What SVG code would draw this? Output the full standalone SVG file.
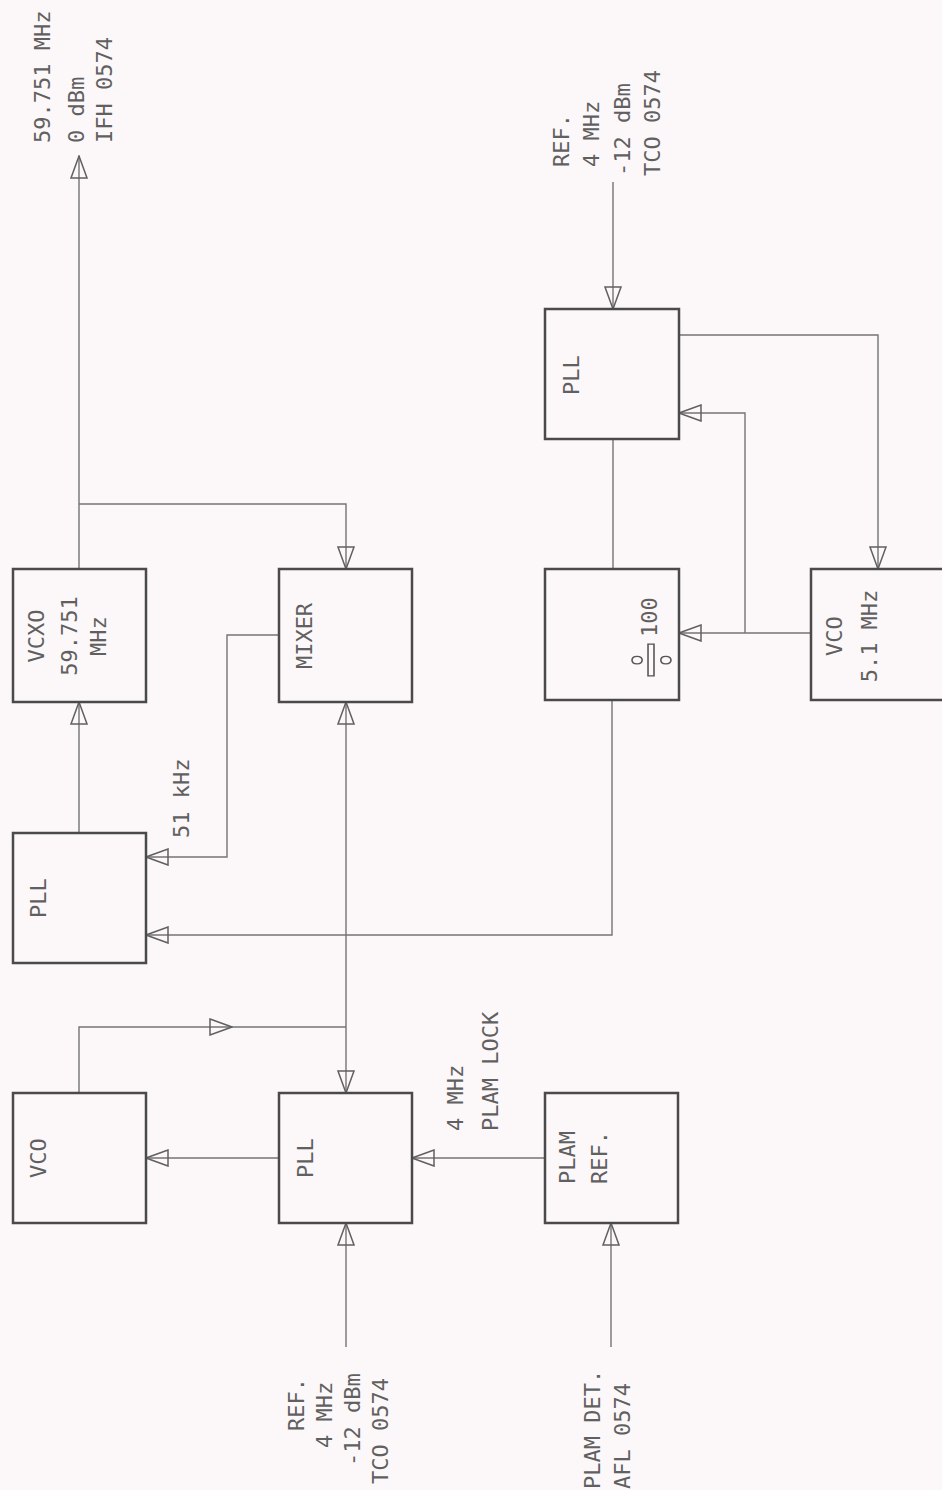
<svg xmlns="http://www.w3.org/2000/svg" width="942" height="1490" viewBox="0 0 942 1490">
<style>
.bg{fill:#fcf7f8}
.bx{fill:none;stroke:#4a4a4a;stroke-width:2.5}
.ln{fill:none;stroke:#747474;stroke-width:1.4}
.t{font-family:"DejaVu Sans Mono","Liberation Mono",monospace;font-size:22px;fill:#606060}
.m{text-anchor:middle}
.big{font-family:"Noto Sans","DejaVu Sans",sans-serif;font-size:64px;fill:none;stroke:#555;stroke-width:1.2;text-anchor:middle}
</style>
<defs>
<marker id="arr" viewBox="0 0 24 18" refX="23" refY="9" markerWidth="24" markerHeight="18" markerUnits="userSpaceOnUse" orient="auto-start-reverse">
<path d="M1,1 L23,9 L1,17 Z" fill="none" stroke="#606060" stroke-width="1.5"/>
</marker>
</defs>
<rect class="bg" x="0" y="0" width="942" height="1490"/>

<g id="connectors">
<path class="ln" d="M79,569 V156" marker-end="url(#arr)"/>
<path class="ln" d="M79,504 H346 V569" marker-end="url(#arr)"/>
<path class="ln" d="M79,833 V702" marker-end="url(#arr)"/>
<path class="ln" d="M279,635 H227 V857 H146" marker-end="url(#arr)"/>
<path class="ln" d="M346,702 V1093" marker-start="url(#arr)" marker-end="url(#arr)"/>
<path class="ln" d="M79,1093 V1027 H232" marker-end="url(#arr)"/>
<path class="ln" d="M232,1027 H346"/>
<path class="ln" d="M279,1158 H146" marker-end="url(#arr)"/>
<path class="ln" d="M545,1158 H412" marker-end="url(#arr)"/>
<path class="ln" d="M346,1347 V1223" marker-end="url(#arr)"/>
<path class="ln" d="M611,1347 V1223" marker-end="url(#arr)"/>
<path class="ln" d="M612,700 V935 H146" marker-end="url(#arr)"/>
<path class="ln" d="M613,569 V439"/>
<path class="ln" d="M613,182 V309" marker-end="url(#arr)"/>
<path class="ln" d="M679,335 H878 V569" marker-end="url(#arr)"/>
<path class="ln" d="M811,633 H679" marker-end="url(#arr)"/>
<path class="ln" d="M745,633 V413 H679" marker-end="url(#arr)"/>
</g>

<g id="vcxo">
<rect class="bx" x="13" y="569" width="133" height="133"/>
<text class="t m" transform="translate(44,636) rotate(-90)">VCXO</text>
<text class="t m" transform="translate(77,636) rotate(-90)">59.751</text>
<text class="t m" transform="translate(106,636) rotate(-90)">MHz</text>
</g>
<g id="mixer">
<rect class="bx" x="279" y="569" width="133" height="133"/>
<text class="t m" transform="translate(312,636) rotate(-90)">MIXER</text>
</g>
<g id="div100">
<rect class="bx" x="545" y="569" width="134" height="131"/>
<text class="big" transform="translate(681,660) rotate(-90) scale(1.05,1.3)">÷</text>
<text class="t" transform="translate(657,637) rotate(-90)">100</text>
</g>
<g id="vco51">
<rect class="bx" x="811" y="569" width="135" height="131"/>
<text class="t m" transform="translate(842,636) rotate(-90)">VCO</text>
<text class="t m" transform="translate(877,636) rotate(-90)">5.1 MHz</text>
</g>
<g id="pll-top">
<rect class="bx" x="545" y="309" width="134" height="130"/>
<text class="t m" transform="translate(579,375) rotate(-90)">PLL</text>
</g>
<g id="pll-left">
<rect class="bx" x="13" y="833" width="133" height="130"/>
<text class="t m" transform="translate(46,898) rotate(-90)">PLL</text>
</g>
<g id="vco-left">
<rect class="bx" x="13" y="1093" width="133" height="130"/>
<text class="t m" transform="translate(46,1158) rotate(-90)">VCO</text>
</g>
<g id="pll-mid">
<rect class="bx" x="279" y="1093" width="133" height="130"/>
<text class="t m" transform="translate(313,1158) rotate(-90)">PLL</text>
</g>
<g id="plam-ref">
<rect class="bx" x="545" y="1093" width="133" height="130"/>
<text class="t" transform="translate(575,1184) rotate(-90)">PLAM</text>
<text class="t" transform="translate(607,1184) rotate(-90)">REF.</text>
</g>

<g id="labels">
<text class="t" transform="translate(50,143) rotate(-90)">59.751 MHz</text>
<text class="t" transform="translate(84,143) rotate(-90)">0 dBm</text>
<text class="t" transform="translate(112,143) rotate(-90)">IFH 0574</text>
<text class="t" transform="translate(569,167) rotate(-90)">REF.</text>
<text class="t" transform="translate(599,167) rotate(-90)">4 MHz</text>
<text class="t" transform="translate(630,176) rotate(-90)">-12 dBm</text>
<text class="t" transform="translate(660,176) rotate(-90)">TCO 0574</text>
<text class="t" transform="translate(189,838) rotate(-90)">51 kHz</text>
<text class="t" transform="translate(463,1131) rotate(-90)">4 MHz</text>
<text class="t" transform="translate(498,1131) rotate(-90)">PLAM LOCK</text>
<text class="t" transform="translate(304,1431) rotate(-90)">REF.</text>
<text class="t" transform="translate(332,1448) rotate(-90)">4 MHz</text>
<text class="t" transform="translate(360,1466) rotate(-90)">-12 dBm</text>
<text class="t" transform="translate(388,1484) rotate(-90)">TCO 0574</text>
<text class="t" transform="translate(600,1489) rotate(-90)">PLAM DET.</text>
<text class="t" transform="translate(630,1489) rotate(-90)">AFL 0574</text>
</g>
</svg>
